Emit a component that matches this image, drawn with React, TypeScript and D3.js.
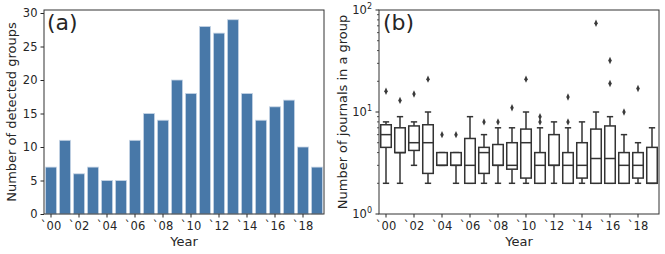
import React, { useEffect, useRef } from 'react';
import * as d3 from 'd3';

const years = d3.range(2000, 2020).map(String);
const yearLabels = years.map((y) => '`' + y.slice(2));
const groupCounts = [7, 11, 6, 7, 5, 5, 11, 15, 14, 20, 18, 28, 27, 29, 18, 14, 16, 17, 10, 7];

// per-year box stats of journals in a group
const whiskerLow = [2, 2, 3, 2, 3, 2, 2, 2, 2, 2, 2, 2, 2, 2, 2, 2, 2, 2, 2, 2];
const q1 = [4.5, 4, 4.2, 2.5, 3, 3, 2, 2.5, 3, 2.75, 2.25, 2, 3, 2, 2.25, 2, 2, 2, 2.25, 2];
const medians = [6, 4, 5, 5, 3, 3, 3, 4, 3, 3, 5, 3, 3, 3, 3, 3.5, 3.5, 3, 3, 2];
const q3 = [7.5, 7, 7.3, 7.5, 4, 4, 5.5, 4.5, 4.8, 5, 6.8, 4, 6, 4, 5, 6.8, 7.3, 4, 4, 4.5];
const whiskerHigh = [8, 9, 8, 10, 4, 4, 9, 6, 7, 7, 10, 7, 8, 7, 8, 10, 9, 6, 5, 7];
const outliers = [[16], [13], [15], [21], [6], [6], [], [8], [8], [11], [21], [8, 9], [], [8, 14], [], [74], [19, 32], [10], [17], []];

const barColor = '#4878a8';
const ink = '#262626';
const font = 'DejaVu Sans, sans-serif';
const tickFont = 11.5;

function App() {
  const svgRef = useRef<SVGSVGElement>(null);

  useEffect(() => {
    const svg = d3.select(svgRef.current);
    svg.selectAll('*').remove();
    const top = 10;
    const bottom = 214;

    const styleAxis = (g: any) => {
      g.select('.domain').remove();
      g.selectAll('line').attr('stroke', ink).attr('stroke-width', 1);
      g.selectAll('text').attr('fill', ink).attr('font-size', tickFont).attr('font-family', font);
    };

    // ---------- (a) bars ----------
    const x1 = d3.scaleBand().domain(years).range([44, 324]).paddingInner(0.2).paddingOuter(0.1);
    const y1 = d3.scaleLinear().domain([0, 30.45]).range([bottom, top]);
    const a = svg.append('g');

    a.selectAll('rect.bar')
      .data(groupCounts)
      .enter()
      .append('rect')
      .attr('class', 'bar')
      .attr('x', (_, i) => x1(years[i])!)
      .attr('y', (d) => y1(d))
      .attr('width', x1.bandwidth())
      .attr('height', (d) => bottom - y1(d))
      .attr('fill', barColor)
      .attr('stroke', '#c8d6e6')
      .attr('stroke-width', 0.8);

    a.append('g')
      .attr('transform', `translate(0,${bottom})`)
      .call(
        d3
          .axisBottom(x1)
          .tickValues(years.filter((_, i) => i % 2 === 0))
          .tickFormat((d) => yearLabels[years.indexOf(d)])
          .tickSize(3.5)
          .tickPadding(4)
      )
      .call(styleAxis);

    a.append('g')
      .attr('transform', `translate(44,0)`)
      .call(d3.axisLeft(y1).tickValues([0, 5, 10, 15, 20, 25, 30]).tickSize(3.5).tickPadding(3))
      .call(styleAxis);

    a.append('rect')
      .attr('x', 44).attr('y', top).attr('width', 280).attr('height', bottom - top)
      .attr('fill', 'none').attr('stroke', '#333').attr('stroke-width', 1);

    a.append('text').attr('x', 47).attr('y', 30).attr('font-size', 22).attr('font-family', font).attr('fill', ink).text('(a)');
    a.append('text').attr('x', 184).attr('y', 246).attr('text-anchor', 'middle').attr('font-size', 13).attr('font-family', font).attr('fill', ink).text('Year');
    a.append('text')
      .attr('transform', `translate(16,${(top + bottom) / 2}) rotate(-90)`)
      .attr('text-anchor', 'middle').attr('font-size', 13).attr('font-family', font).attr('fill', ink)
      .text('Number of detected groups');

    // ---------- (b) boxes ----------
    const x2 = d3.scaleBand().domain(years).range([379, 659]).paddingInner(0.2).paddingOuter(0.1);
    const y2 = d3.scaleLog().domain([1, 100]).range([bottom, top]);
    const b = svg.append('g');
    const bw = x2.bandwidth() * 0.94;
    const cap = bw * 0.6;
    const lineColor = '#333';

    years.forEach((yr, i) => {
      const cx = x2(yr)! + x2.bandwidth() / 2;
      const g = b.append('g').attr('stroke', lineColor).attr('stroke-width', 1.5).attr('fill', 'none');
      g.append('line').attr('x1', cx).attr('x2', cx).attr('y1', y2(whiskerLow[i])).attr('y2', y2(q1[i]));
      g.append('line').attr('x1', cx).attr('x2', cx).attr('y1', y2(q3[i])).attr('y2', y2(whiskerHigh[i]));
      g.append('line').attr('x1', cx - cap / 2).attr('x2', cx + cap / 2).attr('y1', y2(whiskerLow[i])).attr('y2', y2(whiskerLow[i]));
      g.append('line').attr('x1', cx - cap / 2).attr('x2', cx + cap / 2).attr('y1', y2(whiskerHigh[i])).attr('y2', y2(whiskerHigh[i]));
      g.append('rect')
        .attr('x', cx - bw / 2).attr('width', bw)
        .attr('y', y2(q3[i])).attr('height', y2(q1[i]) - y2(q3[i]))
        .attr('fill', '#fff');
      g.append('line').attr('x1', cx - bw / 2).attr('x2', cx + bw / 2).attr('y1', y2(medians[i])).attr('y2', y2(medians[i]));
      outliers[i].forEach((v) => {
        b.append('path')
          .attr('d', d3.symbol(d3.symbolDiamond, 16)())
          .attr('transform', `translate(${cx},${y2(v)}) scale(0.8,1)`)
          .attr('fill', '#3a3a3a');
      });
    });

    b.append('g')
      .attr('transform', `translate(0,${bottom})`)
      .call(
        d3
          .axisBottom(x2)
          .tickValues(years.filter((_, i) => i % 2 === 0))
          .tickFormat((d) => yearLabels[years.indexOf(d)])
          .tickSize(3.5)
          .tickPadding(4)
      )
      .call(styleAxis);

    const minor: number[] = [];
    [1, 10].forEach((dec) => d3.range(2, 10).forEach((k) => minor.push(dec * k)));
    const yAx = b.append('g').attr('transform', `translate(379,0)`);
    yAx.selectAll('line.minor')
      .data(minor)
      .enter()
      .append('line')
      .attr('x1', -2).attr('x2', 0)
      .attr('y1', (d) => y2(d)).attr('y2', (d) => y2(d))
      .attr('stroke', ink).attr('stroke-width', 0.8);
    const major = yAx.selectAll('g.major').data([1, 10, 100]).enter().append('g')
      .attr('transform', (d) => `translate(0,${y2(d)})`);
    major.append('line').attr('x1', -3.5).attr('x2', 0).attr('stroke', ink);
    const lbl = major.append('text')
      .attr('x', -7).attr('y', 4)
      .attr('text-anchor', 'end').attr('font-size', tickFont).attr('font-family', font).attr('fill', ink);
    lbl.append('tspan').text('10');
    lbl.append('tspan').attr('dy', -5).attr('font-size', 8).text((d) => String(Math.round(Math.log10(d))));

    b.append('rect')
      .attr('x', 379).attr('y', top).attr('width', 280).attr('height', bottom - top)
      .attr('fill', 'none').attr('stroke', '#333').attr('stroke-width', 1);

    b.append('text').attr('x', 383).attr('y', 30).attr('font-size', 22).attr('font-family', font).attr('fill', ink).text('(b)');
    b.append('text').attr('x', 519).attr('y', 246).attr('text-anchor', 'middle').attr('font-size', 13).attr('font-family', font).attr('fill', ink).text('Year');
    b.append('text')
      .attr('transform', `translate(347,${(top + bottom) / 2}) rotate(-90)`)
      .attr('text-anchor', 'middle').attr('font-size', 13).attr('font-family', font).attr('fill', ink)
      .text('Number of journals in a group');
  }, []);

  return (
    <div style={{ position: 'absolute', left: 0, top: 0 }}>
      <svg ref={svgRef} width={665} height={254} style={{ display: 'block', background: '#fff' }} />
    </div>
  );
}

export default App;
